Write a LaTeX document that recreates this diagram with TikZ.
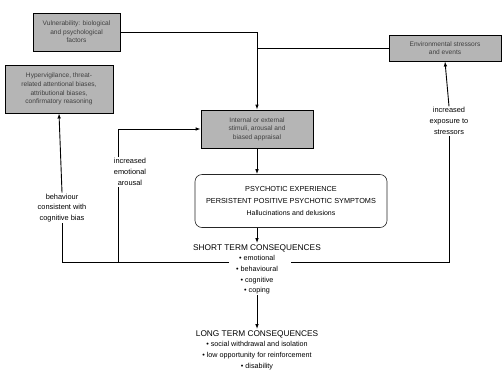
\documentclass[tikz,border=0pt]{standalone}
\usepackage{fontspec}
\setmainfont{Liberation Sans}
\usetikzlibrary{arrows.meta,positioning,calc}
\tikzset{
  graybox/.style={draw=black, line width=0.9pt, fill=gray!58, text=black!75,
    font=\fontsize{6.6}{8.6}\selectfont, align=center, inner sep=2pt},
  roundbox/.style={draw=black!85, line width=0.6pt, rounded corners=7pt, fill=white,
    align=center, inner sep=2pt},
  lbl/.style={font=\fontsize{7.4}{10.8}\selectfont, align=center, inner sep=1pt},
  conseq/.style={font=\fontsize{7.2}{10.7}\selectfont, align=center, inner sep=1pt},
  link/.style={line width=0.9pt, draw=black},
  arrow/.style={link, -{Latex[length=5pt,width=3.6pt]}}
}
\begin{document}
\begin{tikzpicture}[x=1pt,y=-1pt]
\useasboundingbox (0,0) rectangle (502,373);

% shaded boxes
\node[graybox, minimum width=87pt, minimum height=38pt] (vul) at (76.5,32)
  {Vulnerability: biological\\and psychological\\factors};
\node[graybox, minimum width=108pt, minimum height=48pt] (bias) at (59,89)
  {Hypervigilance, threat-\\related attentional biases,\\attributional biases,\\confirmatory reasoning};
\node[graybox, minimum width=112pt, minimum height=26pt] (env) at (445,48)
  {Environmental stressors\\and events};
\node[graybox, minimum width=112pt, minimum height=38pt] (appraisal) at (257,129)
  {Internal or external\\stimuli, arousal and\\biased appraisal};

% central experience box
\node[roundbox, minimum width=192pt, minimum height=53pt] (psy) at (291,201)
  {\fontsize{7.3}{14}\selectfont PSYCHOTIC EXPERIENCE\\
   \fontsize{7.3}{14}\selectfont PERSISTENT POSITIVE PSYCHOTIC SYMPTOMS\\
   \fontsize{7}{14}\selectfont Hallucinations and delusions};

% consequences
\node[conseq, anchor=north] (short) at (257,243)
  {{\fontsize{8.3}{10.7}\selectfont SHORT TERM CONSEQUENCES}\\
   \textbullet\ emotional\\ \textbullet\ behavioural\\ \textbullet\ cognitive\\ \textbullet\ coping};
\node[conseq, anchor=north] (long) at (257,329)
  {{\fontsize{8.3}{10.7}\selectfont LONG TERM CONSEQUENCES}\\
   \textbullet\ social withdrawal and isolation\\
   \textbullet\ low opportunity for reinforcement\\
   \textbullet\ disability};

% feedback labels
\node[lbl] (lblbias) at (62,208) {behaviour\\consistent with\\cognitive bias};
\node[lbl] (lblarousal) at (130,172) {increased\\emotional\\arousal};
\node[lbl] (lblstress) at (449,121) {increased\\exposure to\\stressors};

% junction points on the feedback line
\coordinate (joinL) at (229,262);
\coordinate (joinM) at (118,262);
\coordinate (joinR) at (291,262);

% main chain
\draw[arrow] (vul.east) -| (appraisal.north);
\draw[link] (env.west) -- (env.west -| appraisal.north);
\draw[arrow] (appraisal.south) -- (appraisal.south |- psy.north);
\draw[arrow] (appraisal.south |- psy.south) -- (short.north);
\draw[arrow] (short.south) -- (long.north);

% feedback loops
\draw[link] (joinL) -| (lblbias.south);
\draw[arrow] (lblbias.north) -- (bias.south);
\draw[link] (joinM) -- (joinM |- lblarousal.south);
\draw[arrow] (joinM |- lblarousal.north) |- (appraisal.west);
\draw[link] (joinR) -| (lblstress.south);
\draw[arrow] (lblstress.north) -- (env.south);
\end{tikzpicture}
\end{document}
